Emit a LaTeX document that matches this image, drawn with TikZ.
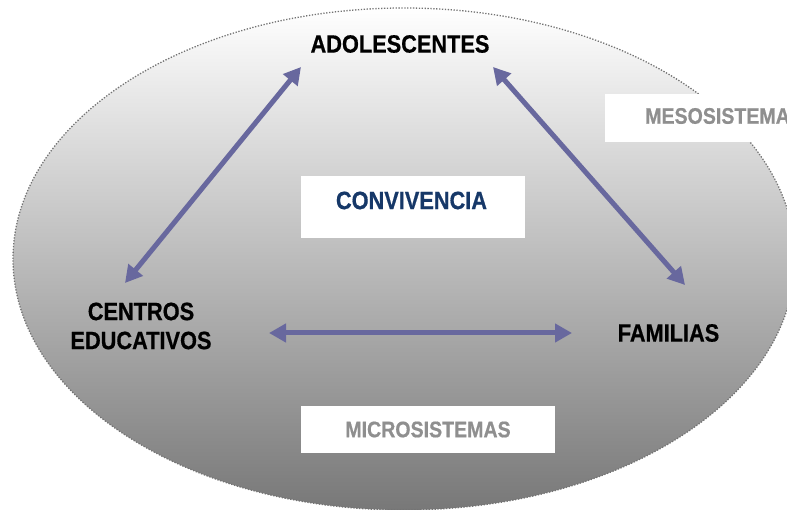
\documentclass[tikz,border=0pt]{standalone}
\usepackage{fontspec}
\usetikzlibrary{arrows.meta}
\newfontfamily\labfont[FakeStretch=0.87,FakeBold=0.6]{Liberation Sans Bold}
\definecolor{arrowc}{HTML}{68689E}
\definecolor{convc}{RGB}{22,56,104}
\definecolor{subc}{gray}{0.56}
\definecolor{midg}{gray}{0.776}
\definecolor{botg}{gray}{0.47}
\definecolor{rimc}{gray}{0.45}
\tikzset{
  mainlab/.style={font=\labfont\fontsize{25}{29}\selectfont, inner sep=0pt, text=black},
  sublab/.style={font=\labfont\fontsize{22.5}{26}\selectfont, inner sep=0pt, text=subc},
  whitebox/.style={fill=white, draw=none, inner sep=0pt},
  dblarrow/.style={arrowc, line width=5pt, {Triangle[length=17pt,width=18pt]}-{Triangle[length=17pt,width=18pt]}}
}
\begin{document}
\begin{tikzpicture}[x=1pt,y=-1pt]
\useasboundingbox (0,0) rectangle (787,510);
\clip (0,0) rectangle (787,510);
% ellipse
\path[top color=white, middle color=midg, bottom color=botg, draw=rimc, line width=1.3pt, dash pattern=on 1.3pt off 1.6pt]
  (404,259) ellipse [x radius=391, y radius=251];
% boxes
\node[whitebox, minimum width=224pt, minimum height=62pt] (convbox) at (413,207) {};
\node[whitebox, minimum width=200pt, minimum height=48pt] (mesobox) at (705,118) {};
\node[whitebox, minimum width=254pt, minimum height=47pt] (microbox) at (428,429.5) {};
% labels
\node[mainlab] (adol) at (400,44) {ADOLESCENTES};
\node[mainlab, align=center] (centros) at (141,326) {CENTROS\\EDUCATIVOS};
\node[mainlab] (fam) at (668.5,333) {FAMILIAS};
\node[mainlab, text=convc] (conv) at (411.5,200.5) {CONVIVENCIA};
\node[sublab, anchor=west] (meso) at (645,116) {MESOSISTEMA};
\node[sublab] (micro) at (428,429.5) {MICROSISTEMAS};
% arrow ends
\coordinate (a1) at (301,67);
\coordinate (a2) at (125,283);
\coordinate (b1) at (493,67);
\coordinate (b2) at (685,285);
\coordinate (c1) at (269,333);
\coordinate (c2) at (572,333);
\draw[dblarrow] (a1) -- (a2);
\draw[dblarrow] (b1) -- (b2);
\draw[dblarrow] (c1) -- (c2);
\end{tikzpicture}
\end{document}
